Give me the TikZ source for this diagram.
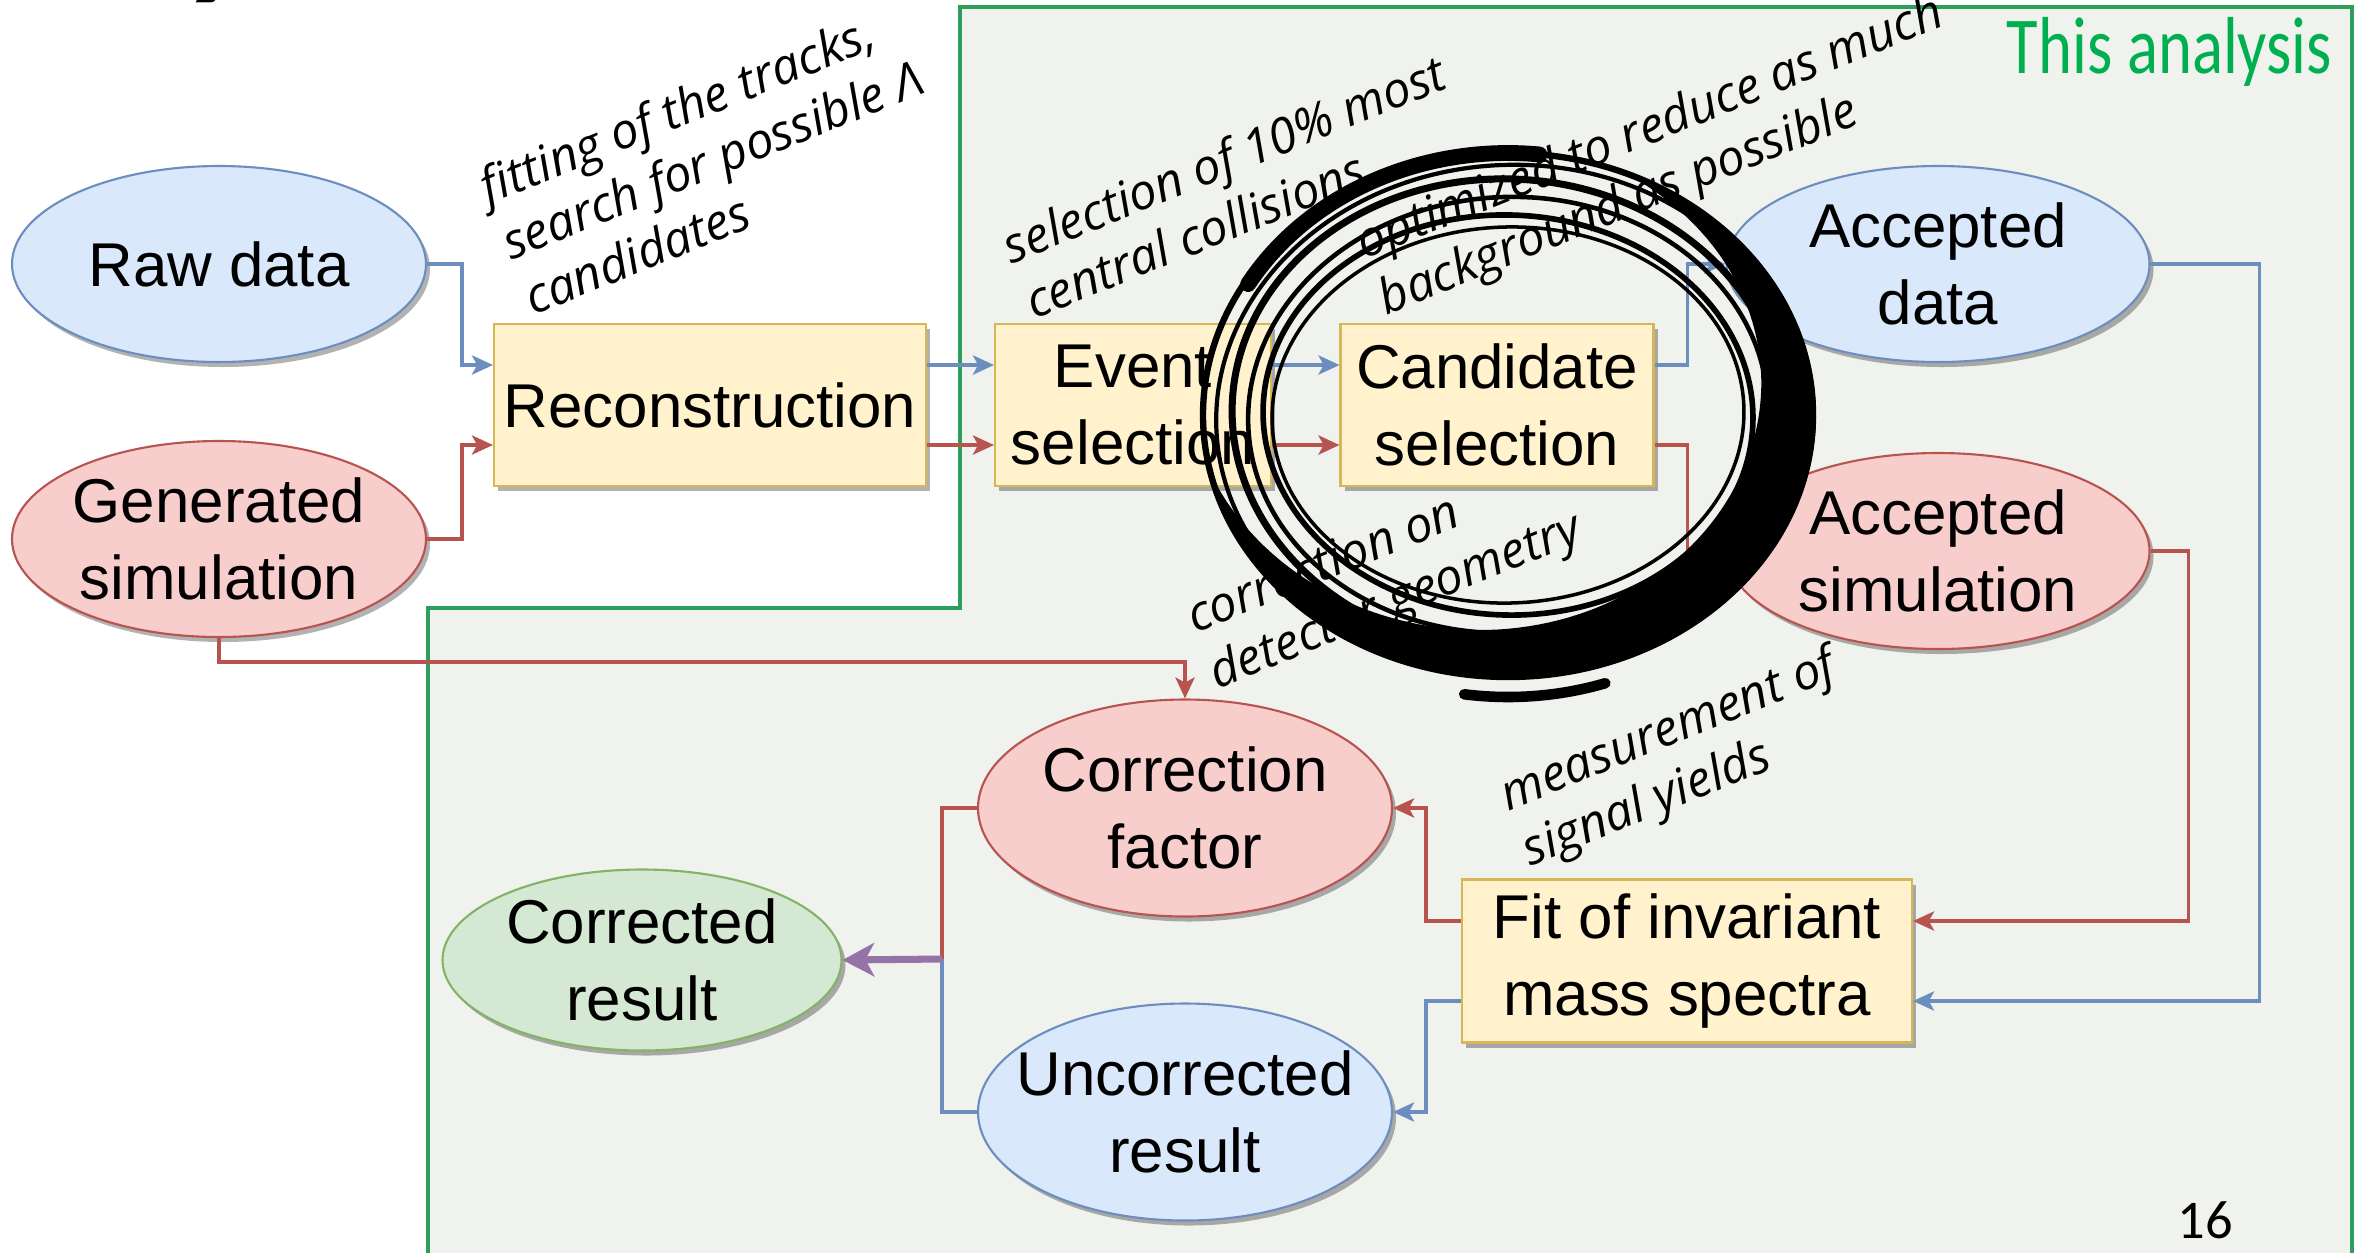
\documentclass[tikz,border=0pt]{standalone}
\usepackage{fontspec}
\setmainfont{Liberation Sans}
\newfontfamily\notefont{Open Sans}
\newfontfamily\slidefont{Carlito}
\usetikzlibrary{arrows.meta, positioning, shapes.geometric, shadows}
\definecolor{blueFill}{HTML}{DAE8FC}
\definecolor{blueLine}{HTML}{6C8EBF}
\definecolor{redFill}{HTML}{F8CECC}
\definecolor{redLine}{HTML}{B85450}
\definecolor{greenFill}{HTML}{D5E8D4}
\definecolor{greenLine}{HTML}{82B366}
\definecolor{yellowFill}{HTML}{FFF2CC}
\definecolor{yellowLine}{HTML}{D6B656}
\definecolor{purpleLine}{HTML}{9673A6}
\definecolor{regionFill}{HTML}{F0F2ED}
\definecolor{regionLine}{HTML}{2E9E5B}
\definecolor{titleGreen}{HTML}{00B050}
\tikzset{
    boxshadow/.style={drop shadow={shadow xshift=0.04cm, shadow yshift=-0.05cm, opacity=0.3, fill=black}},
    blob/.style={ellipse, draw, line width=0.6pt, align=center, inner xsep=-4mm, inner ysep=0pt,
        minimum width=4.14cm, minimum height=1.96cm, font=\fontsize{17.6}{22}\selectfont, boxshadow},
    bluenode/.style={blob, fill=blueFill, draw=blueLine},
    rednode/.style={blob, fill=redFill, draw=redLine},
    greennode/.style={blob, fill=greenFill, draw=greenLine},
    stage/.style={rectangle, draw=yellowLine, fill=yellowFill, line width=0.6pt, align=center,
        minimum height=1.62cm, inner sep=2pt, font=\fontsize{17.6}{22}\selectfont, boxshadow},
    bluearr/.style={draw=blueLine, line width=0.9pt, -{Stealth[length=6pt, width=5.5pt, inset=1.5pt]}},
    redarr/.style={draw=redLine, line width=0.9pt, -{Stealth[length=6pt, width=5.5pt, inset=1.5pt]}},
    blueline/.style={draw=blueLine, line width=0.9pt},
    redline/.style={draw=redLine, line width=0.9pt},
    mergearr/.style={draw=purpleLine, line width=2pt, -{Stealth[length=9pt, width=9.5pt, inset=2.5pt]}},
    region/.style={draw=regionLine, fill=regionFill, line width=1.2pt},
    note/.style={font=\notefont\itshape\fontsize{14}{17}\selectfont, align=left, rotate=22, inner sep=0pt},
    ink/.style={black, line cap=round}
}

\begin{document}
\begin{tikzpicture}
    \useasboundingbox (0,0) rectangle (23.68,-12.52);
    % This analysis area
    \draw[region] (9.60,-0.07) -- (23.52,-0.07) -- (23.52,-12.8) -- (4.28,-12.8) -- (4.28,-6.08) -- (9.60,-6.08) -- cycle;
    \node[anchor=base, font=\slidefont\bfseries\fontsize{44}{48}\selectfont] (cut) at (2.18,0.22) {y};

    % inputs and selection chain
    \node[bluenode] (raw) at (2.19,-2.64) {Raw data};
    \node[rednode] (gen) at (2.19,-5.39) {Generated\\simulation};
    \node[stage, minimum width=4.32cm] (reco) at (7.10,-4.05) {Reconstruction};
    \node[stage, minimum width=2.76cm] (evt) at (11.33,-4.05) {Event\\selection};
    \node[stage, minimum width=3.13cm] (cand) at (14.97,-4.05) {Candidate\\selection};
    \node[bluenode, minimum width=4.23cm] (accd) at (19.38,-2.64) {Accepted\\data};
    \node[rednode, minimum width=4.23cm] (accs) at (19.38,-5.51) {Accepted\\simulation};

    % results
    \node[stage, minimum width=4.50cm, minimum height=1.63cm] (fit) at (16.87,-9.61) {Fit of invariant\\mass spectra};
    \node[rednode, minimum height=2.17cm] (cf) at (11.85,-8.08) {Correction\\factor};
    \node[bluenode, minimum height=2.17cm] (unc) at (11.85,-11.12) {Uncorrected\\result};
    \node[greennode, minimum width=3.99cm, minimum height=1.81cm] (corr) at (6.42,-9.60) {Corrected\\result};
    \coordinate (merge) at (9.42,-9.59);

    % connectors
    \draw[bluearr] (raw.east) -- ++(0.35,0) |- ([yshift=4mm]reco.west);
    \draw[redarr] (gen.east) -- ++(0.35,0) |- ([yshift=-4mm]reco.west);
    \draw[bluearr] ([yshift=4mm]reco.east) -- ([yshift=4mm]evt.west);
    \draw[redarr] ([yshift=-4mm]reco.east) -- ([yshift=-4mm]evt.west);
    \draw[bluearr] ([yshift=4mm]evt.east) -- ([yshift=4mm]cand.west);
    \draw[redarr] ([yshift=-4mm]evt.east) -- ([yshift=-4mm]cand.west);
    \draw[bluearr] ([yshift=4mm]cand.east) -- ++(0.33,0) |- (accd.west);
    \draw[redarr] ([yshift=-4mm]cand.east) -- ++(0.33,0) |- (accs.west);
    \draw[bluearr] (accd.east) -- ++(1.09,0) |- ([yshift=-4mm]fit.east);
    \draw[redarr] (accs.east) -- ++(0.38,0) |- ([yshift=4mm]fit.east);
    \draw[redarr] ([yshift=4mm]fit.west) -- ++(-0.35,0) |- (cf.east);
    \draw[bluearr] ([yshift=-4mm]fit.west) -- ++(-0.35,0) |- (unc.east);
    \draw[redarr] (gen.south) -- ++(0,-0.24) -| (cf.north);
    \draw[redline] (cf.west) -| (merge);
    \draw[blueline] (unc.west) -| (merge);
    \draw[mergearr] (merge) -- (corr.east);

    % notes
    \node[note] (nreco) at (7.12,-1.59) {fitting of the tracks,\\search for possible Λ\\candidates};
    \node[note] (nevt) at (12.35,-1.86) {selection of 10\% most\\central collisions};
    \node[note] (ncand) at (16.62,-1.58) {optimized to reduce as much\\background as possible};
    \node[note] (ncf) at (13.85,-5.76) {correction on\\detector geometry};
    \node[note] (nfit) at (16.80,-7.60) {measurement of\\signal yields};

    \node[anchor=base east, xscale=0.8, text=titleGreen, font=\slidefont\fontsize{23}{27}\selectfont] (title) at (23.42,-0.73) {This analysis};
    \node[anchor=base, font=\slidefont\fontsize{15.5}{18}\selectfont] (page) at (22.05,-12.38) {16};

    % ink circle
    \begin{scope}[shift={(15.08,-4.15)}]
        \fill[ink] plot[domain=70:-170, samples=100] ({3.08*cos(\x)}, {2.64*sin(\x)})
            -- plot[domain=-170:70, samples=100] ({(3.08-0.72*sin((70-\x)*0.75))*cos(\x)}, {(2.64-0.58*sin((70-\x)*0.75))*sin(\x)}) -- cycle;
        \foreach \rx/\ry/\rot/\lw in {3.05/2.62/0/1.8pt, 2.92/2.5/4/1.2pt, 2.76/2.36/-3/2pt, 2.6/2.18/3/1.3pt, 2.45/2.0/-2/1.6pt, 2.36/1.88/2/1pt}
            \draw[ink, line width=\lw, rotate=\rot] (0,0) ellipse [x radius=\rx, y radius=\ry];
        \draw[ink, line width=4.5pt] (84:3.0 and 2.62) arc[start angle=84, end angle=150, x radius=3.0, y radius=2.62];
        \draw[ink, line width=3pt] (-72:3.15 and 2.82) arc[start angle=-72, end angle=-98, x radius=3.15, y radius=2.82];
    \end{scope}
\end{tikzpicture}
\end{document}
